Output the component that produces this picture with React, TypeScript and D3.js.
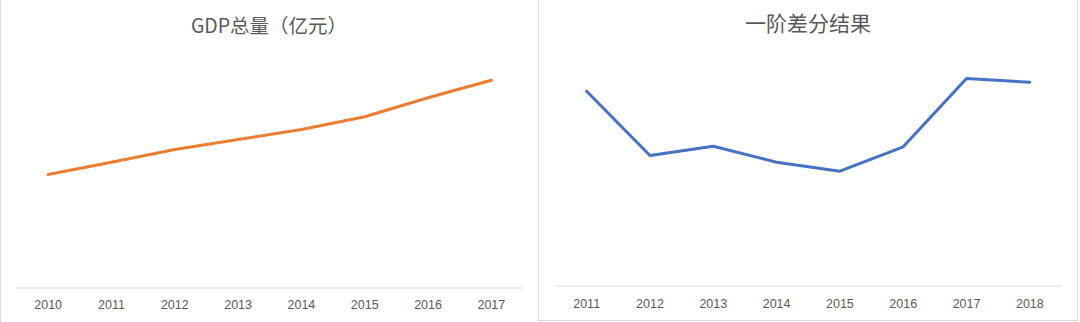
import React from "react";
import * as d3 from "d3";

const gdpYears = ["2010", "2011", "2012", "2013", "2014", "2015", "2016", "2017"];
const gdpValues = [452000, 501200, 552000, 592000, 632000, 682800, 758800, 829200];

const diffYears = ["2011", "2012", "2013", "2014", "2015", "2016", "2017", "2018"];
const diffValues = [77720, 52000, 55720, 49320, 45720, 55480, 82800, 81320];

const titleLeft = "GDP总量（亿元）";
const titleRight = "一阶差分结果";

const W = 1080;
const H = 322;
const TEXT = "#595959";
const AXIS = "#d9d9d9";
const BORDER = "#d9d9d9";

type PanelProps = {
  x0: number;
  x1: number;
  axisY: number;
  topY: number;
  yMax: number;
  cats: string[];
  vals: number[];
  color: string;
  title: string;
  titleX: number;
  titleY: number;
  titleSize: number;
  labelY: number;
};

function Panel(p: PanelProps) {
  const x = d3.scaleBand<string>().domain(p.cats).range([p.x0, p.x1]);
  const y = d3.scaleLinear().domain([0, p.yMax]).range([p.axisY, p.topY]);
  const line = d3
    .line<number>()
    .x((_, i) => (x(p.cats[i]) as number) + x.bandwidth() / 2)
    .y((v) => y(v));
  return (
    <g>
      <text
        x={p.titleX}
        y={p.titleY}
        textAnchor="middle"
        fontFamily="'Noto Sans CJK SC', 'Noto Sans', sans-serif"
        fontSize={p.titleSize}
        fill={TEXT}
      >
        {p.title}
      </text>
      <line x1={p.x0} x2={p.x1} y1={p.axisY + 0.5} y2={p.axisY + 0.5} stroke={AXIS} strokeWidth={1} />
      {p.cats.map((c) => (
        <text
          key={c}
          x={(x(c) as number) + x.bandwidth() / 2}
          y={p.labelY}
          textAnchor="middle"
          fontFamily="'Liberation Sans', Arial, sans-serif"
          fontSize={12.5}
          fill={TEXT}
        >
          {c}
        </text>
      ))}
      <path
        d={line(p.vals) || ""}
        fill="none"
        stroke={p.color}
        strokeWidth={3}
        strokeLinejoin="round"
        strokeLinecap="round"
      />
    </g>
  );
}

export default function App() {
  return (
    <svg
      width={W}
      height={H}
      style={{ position: "absolute", left: 0, top: 0, display: "block", background: "#fff" }}
    >
      <rect x={0} y={0} width={W} height={H} fill="#fff" />
      <line x1={0.5} x2={0.5} y1={0} y2={H} stroke={BORDER} strokeWidth={1} />
      <line x1={538.5} x2={538.5} y1={0} y2={321} stroke={BORDER} strokeWidth={1} />
      <line x1={538.5} x2={1077.5} y1={320.5} y2={320.5} stroke={BORDER} strokeWidth={1} />
      <line x1={1077.5} x2={1077.5} y1={0} y2={321} stroke={BORDER} strokeWidth={1} />
      <Panel
        x0={16.5}
        x1={523}
        axisY={287.5}
        topY={37.5}
        yMax={1000000}
        cats={gdpYears}
        vals={gdpValues}
        color="#ED7D31"
        title={titleLeft}
        titleX={269}
        titleY={32.5}
        titleSize={19.5}
        labelY={308.5}
      />
      <Panel
        x0={555}
        x1={1061.5}
        axisY={285.5}
        topY={35.5}
        yMax={100000}
        cats={diffYears}
        vals={diffValues}
        color="#4472C4"
        title={titleRight}
        titleX={808}
        titleY={30.5}
        titleSize={21}
        labelY={307.5}
      />
    </svg>
  );
}
